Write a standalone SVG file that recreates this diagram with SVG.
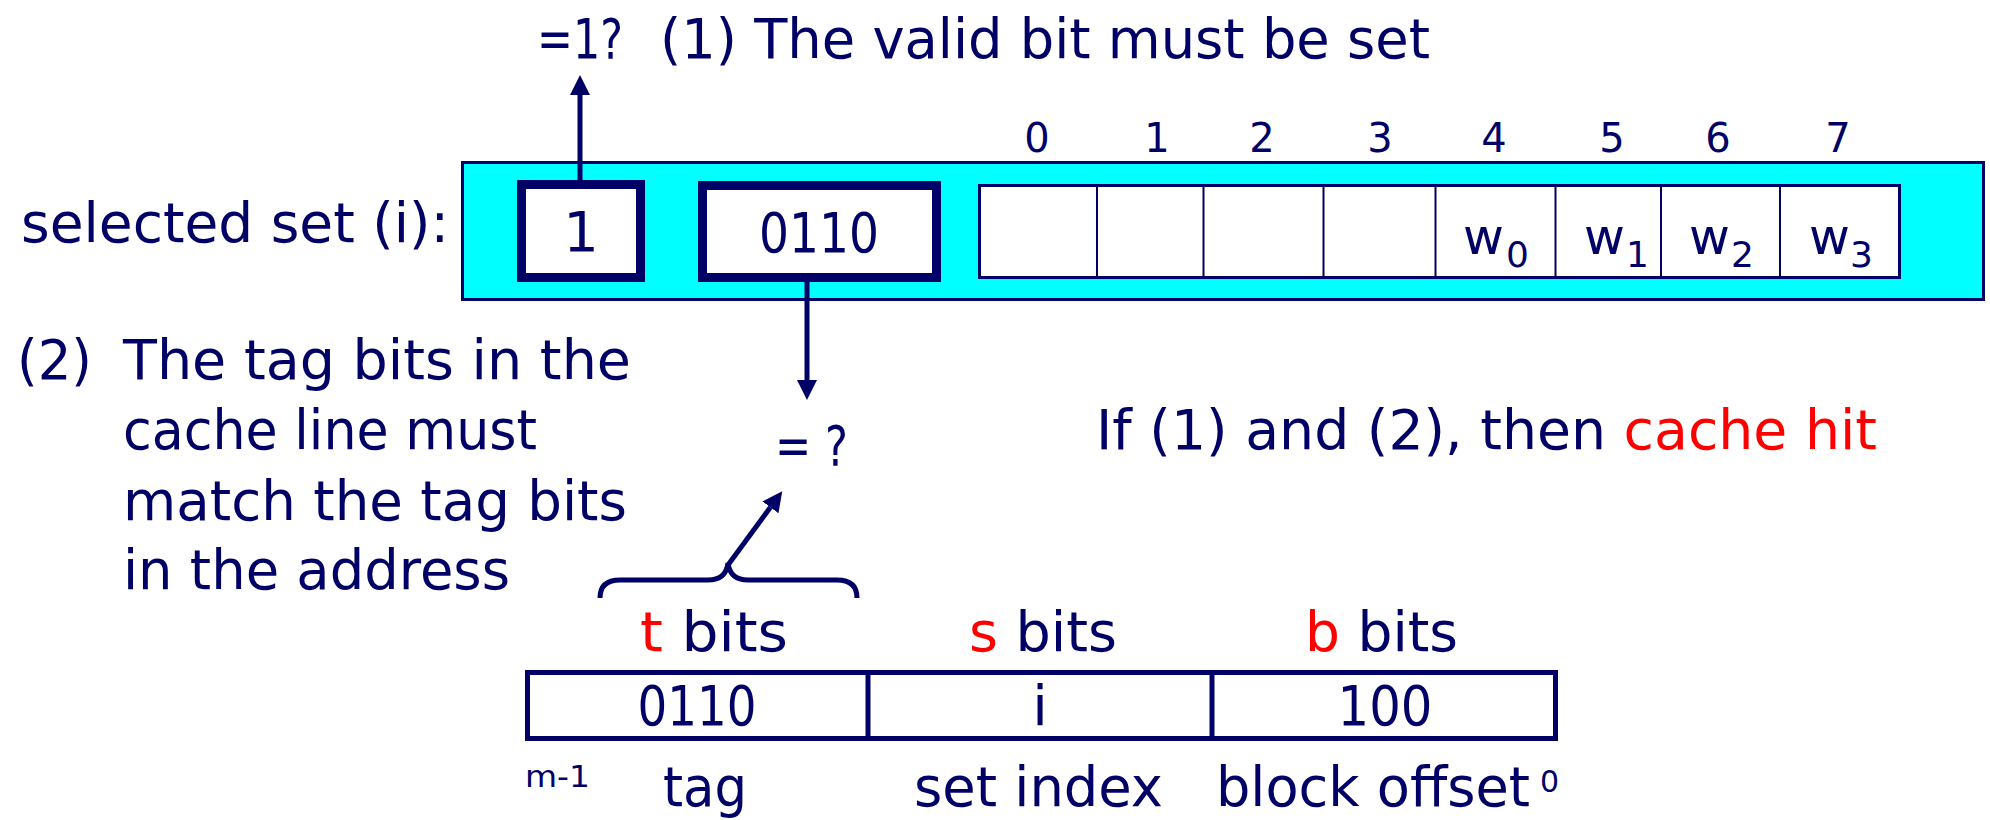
<svg xmlns="http://www.w3.org/2000/svg" width="1990" height="820" viewBox="0 0 1990 820">
<defs>
<style>
text{font-family:"DejaVu Sans","Liberation Sans",sans-serif;fill:#000066}
.t{font-size:56px}
.n{font-size:40px}
.s{font-size:30px}
.r{fill:#ff0000}
.m{text-anchor:middle}
.box{fill:#ffffff;stroke:#000066}
.ln{stroke:#000066;fill:none}
</style>
<marker id="ah" viewBox="0 0 20 20" refX="0" refY="10" markerWidth="20" markerHeight="20" markerUnits="userSpaceOnUse" orient="auto">
<path d="M0,0 L20,10 L0,20 z" fill="#000066"/>
</marker>
</defs>
<rect width="1990" height="820" fill="#ffffff"/>

<g id="cache-set">
<rect x="462.5" y="162.5" width="1521" height="137" fill="#00ffff" stroke="#000066" stroke-width="3"/>
<text class="t" x="21" y="242" textLength="428" lengthAdjust="spacingAndGlyphs">selected set (i):</text>
</g>

<g id="valid-bit">
<rect class="box" x="521.5" y="184.5" width="119" height="93" stroke-width="9"/>
<text class="t m" x="581" y="251" font-size="58">1</text>
</g>

<g id="tag-field">
<rect class="box" x="702.5" y="185.5" width="234" height="92" stroke-width="9"/>
<text class="t m" x="819" y="252" textLength="120" lengthAdjust="spacingAndGlyphs">0110</text>
</g>

<g id="data-block">
<rect class="box" x="979.5" y="185.5" width="920" height="92" stroke-width="3"/>
<g class="ln" stroke-width="2">
<line x1="1097" y1="185" x2="1097" y2="278"/>
<line x1="1203.5" y1="185" x2="1203.5" y2="278"/>
<line x1="1323.5" y1="185" x2="1323.5" y2="278"/>
<line x1="1435.5" y1="185" x2="1435.5" y2="278"/>
<line x1="1555.5" y1="185" x2="1555.5" y2="278"/>
<line x1="1661" y1="185" x2="1661" y2="278"/>
<line x1="1780" y1="185" x2="1780" y2="278"/>
</g>
<text class="n m" x="1037" y="152">0</text>
<text class="n m" x="1157" y="152">1</text>
<text class="n m" x="1262" y="152">2</text>
<text class="n m" x="1380" y="152">3</text>
<text class="n m" x="1494" y="152">4</text>
<text class="n m" x="1612" y="152">5</text>
<text class="n m" x="1718" y="152">6</text>
<text class="n m" x="1838" y="152">7</text>
<text x="1463" y="254" font-size="50">w</text><text x="1506" y="267" font-size="36">0</text>
<text x="1584" y="254" font-size="50">w</text><text x="1626" y="267" font-size="36">1</text>
<text x="1689" y="254" font-size="50">w</text><text x="1731" y="267" font-size="36">2</text>
<text x="1809" y="254" font-size="50">w</text><text x="1850" y="267" font-size="36">3</text>
</g>

<g id="valid-check">
<text class="t" x="537" y="58" textLength="86" lengthAdjust="spacingAndGlyphs">=1?</text>
<text class="t" x="660" y="58" textLength="770" lengthAdjust="spacingAndGlyphs">(1) The valid bit must be set</text>
</g>

<g id="tag-check">
<text class="t" x="775" y="465" textLength="73" lengthAdjust="spacingAndGlyphs">= ?</text>
</g>

<g id="tag-note">
<text class="t" x="17" y="379" textLength="75" lengthAdjust="spacingAndGlyphs">(2)</text>
<text class="t" x="123" y="379" textLength="508" lengthAdjust="spacingAndGlyphs">The tag bits in the</text>
<text class="t" x="123" y="449" textLength="414" lengthAdjust="spacingAndGlyphs">cache line must</text>
<text class="t" x="123" y="520" textLength="504" lengthAdjust="spacingAndGlyphs">match the tag bits</text>
<text class="t" x="123" y="589" textLength="387" lengthAdjust="spacingAndGlyphs">in the address</text>
</g>

<g id="hit-note">
<text class="t" x="1096" y="449" textLength="781" lengthAdjust="spacingAndGlyphs">If (1) and (2), then <tspan class="r">cache hit</tspan></text>
</g>

<g id="address">
<text class="t" x="640" y="651" textLength="148" lengthAdjust="spacingAndGlyphs"><tspan class="r">t</tspan> bits</text>
<text class="t" x="969" y="651" textLength="148" lengthAdjust="spacingAndGlyphs"><tspan class="r">s</tspan> bits</text>
<text class="t" x="1305" y="651" textLength="153" lengthAdjust="spacingAndGlyphs"><tspan class="r">b</tspan> bits</text>
<rect class="box" x="527.5" y="672.5" width="1028" height="66" stroke-width="5"/>
<line class="ln" x1="868" y1="672" x2="868" y2="739" stroke-width="5"/>
<line class="ln" x1="1212" y1="672" x2="1212" y2="739" stroke-width="5"/>
<text class="t m" x="697" y="725" textLength="119" lengthAdjust="spacingAndGlyphs">0110</text>
<text class="t m" x="1040" y="725">i</text>
<text class="t m" x="1385" y="725" textLength="95" lengthAdjust="spacingAndGlyphs">100</text>
<text class="s" x="525" y="787" textLength="65" lengthAdjust="spacingAndGlyphs">m-1</text>
<text class="t" x="663" y="806" textLength="84" lengthAdjust="spacingAndGlyphs">tag</text>
<text class="t" x="914" y="806" textLength="249" lengthAdjust="spacingAndGlyphs">set index</text>
<text class="t" x="1216" y="806" textLength="314" lengthAdjust="spacingAndGlyphs">block offset</text>
<text class="s" x="1540" y="792">0</text>
</g>

<g id="connectors" class="ln" stroke-width="5">
<line x1="580" y1="180" x2="580" y2="95" marker-end="url(#ah)"/>
<line x1="807" y1="282" x2="807" y2="380" marker-end="url(#ah)"/>
<line x1="728" y1="565" x2="770.4" y2="507.3" marker-end="url(#ah)"/>
<path d="M600,598 Q600,580 620,580 L708,580 Q726,580 728,563 Q730,580 748,580 L837,580 Q857,580 857,598"/>
</g>
</svg>
